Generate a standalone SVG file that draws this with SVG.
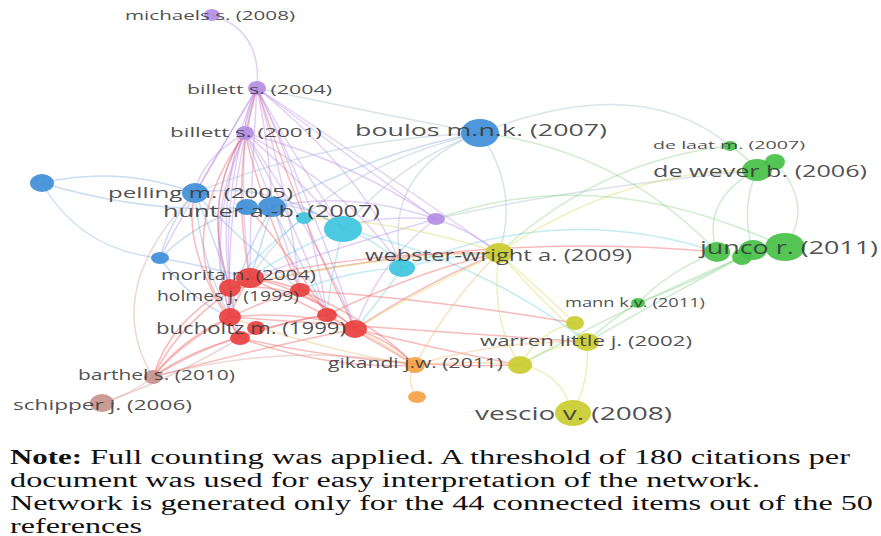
<svg xmlns="http://www.w3.org/2000/svg" width="881" height="536" viewBox="0 0 881 536">
<style>
.bg{fill:#ffffff}
.e{fill:none;stroke-width:1.5;stroke-opacity:0.42;stroke-linecap:round}
.pu{stroke:#b98ee6}
.bl{stroke:#7faee0}
.gy{stroke:#a9bccc}
.cy{stroke:#6fd0e4}
.re{stroke:#ee7070;stroke-opacity:0.48}
.br{stroke:#d4a09a}
.or{stroke:#f4b56e}
.ye{stroke:#d8da62}
.gr{stroke:#8fd48f}
.n{stroke:none;fill-opacity:0.92}
.npu{fill:#b48ee3}
.nbl{fill:#3f8ed8}
.ncy{fill:#3ec6de}
.nre{fill:#e8403f}
.nbr{fill:#c7928d}
.nor{fill:#f5a347}
.nye{fill:#c9cd2f}
.ngr{fill:#46c046}
.lb{font-family:"Open Sans","DejaVu Sans",sans-serif;fill:#3a3a3a;fill-opacity:0.9}
.note{font-family:"Liberation Serif","Times New Roman",serif;font-size:20px;fill:#111}
</style>
<rect class="bg" x="0" y="0" width="881" height="536"/>
<g id="connectors">
<!-- purple -->
<path class="e pu" d="M212,15 Q262,30 257,88"/>
<path class="e pu" d="M257,88 Q246,108 245,133"/>
<path class="e pu" d="M257,88 Q215,180 230,288"/>
<path class="e pu" d="M257,88 Q225,200 230,317"/>
<path class="e pu" d="M257,88 Q250,200 250,278"/>
<path class="e pu" d="M257,88 Q210,220 240,338"/>
<path class="e pu" d="M257,88 Q290,200 300,290"/>
<path class="e pu" d="M257,88 Q310,200 327,315"/>
<path class="e pu" d="M257,88 Q320,220 355,329"/>
<path class="e pu" d="M257,88 Q290,150 343,229"/>
<path class="e pu" d="M257,88 Q340,150 436,219"/>
<path class="e gy" d="M257,88 Q360,110 480,133"/>
<path class="e pu" d="M257,88 Q220,150 195,193"/>
<path class="e pu" d="M257,88 Q270,150 272,207"/>
<path class="e pu" d="M257,88 Q190,200 160,258"/>
<path class="e pu" d="M257,88 Q370,180 402,268"/>
<path class="e pu" d="M257,88 Q380,170 499,253"/>
<path class="e pu" d="M245,133 Q200,200 230,288"/>
<path class="e pu" d="M245,133 Q205,230 230,317"/>
<path class="e pu" d="M245,133 Q240,210 250,278"/>
<path class="e pu" d="M245,133 Q280,220 300,290"/>
<path class="e pu" d="M245,133 Q300,230 327,315"/>
<path class="e pu" d="M245,133 Q320,240 355,329"/>
<path class="e pu" d="M245,133 Q195,240 240,338"/>
<path class="e pu" d="M245,133 Q300,180 343,229"/>
<path class="e pu" d="M245,133 Q350,160 436,219"/>
<path class="e pu" d="M245,133 Q200,160 195,193"/>
<path class="e pu" d="M245,133 Q350,190 402,268"/>
<path class="e pu" d="M436,219 Q370,215 343,229"/>
<path class="e pu" d="M436,219 Q350,190 272,207"/>
<path class="e pu" d="M436,219 Q470,230 499,253"/>
<path class="e pu" d="M436,219 Q380,260 355,329"/>
<path class="e gy" d="M436,219 Q560,190 757,170"/>
<path class="e pu" d="M436,219 Q330,250 250,278"/>
<!-- blue -->
<path class="e bl" d="M42,183 Q120,165 195,193"/>
<path class="e bl" d="M42,183 Q150,215 247,207"/>
<path class="e bl" d="M42,183 Q80,250 160,258"/>
<path class="e br" d="M153,377 Q100,290 195,193"/>
<path class="e bl" d="M160,258 Q200,220 247,207"/>
<path class="e bl" d="M160,258 Q200,265 250,278"/>
<path class="e bl" d="M160,258 Q190,300 230,317"/>
<path class="e bl" d="M160,258 Q170,220 195,193"/>
<path class="e bl" d="M195,193 Q215,240 230,288"/>
<path class="e bl" d="M195,193 Q200,260 230,317"/>
<path class="e bl" d="M195,193 Q240,240 300,290"/>
<path class="e bl" d="M195,193 Q270,180 343,229"/>
<path class="e gy" d="M195,193 Q320,140 480,133"/>
<path class="e bl" d="M272,207 Q380,150 480,133"/>
<path class="e bl" d="M272,207 Q260,250 250,278"/>
<path class="e bl" d="M272,207 Q240,260 230,317"/>
<path class="e bl" d="M272,207 Q300,260 327,315"/>
<path class="e bl" d="M272,207 Q300,200 343,229"/>
<path class="e gy" d="M480,133 Q520,190 499,253"/>
<path class="e gy" d="M480,133 Q640,70 730,146"/>
<path class="e gy" d="M480,133 Q400,160 343,229"/>
<path class="e gy" d="M480,133 Q380,170 402,268"/>
<path class="e gy" d="M480,133 Q320,170 250,278"/>
<!-- cyan -->
<path class="e cy" d="M343,229 Q380,240 402,268"/>
<path class="e cy" d="M402,268 Q380,300 355,329"/>
<path class="e cy" d="M402,268 Q350,270 300,290"/>
<path class="e cy" d="M402,268 Q450,255 499,253"/>
<path class="e cy" d="M402,268 Q560,200 717,252"/>
<path class="e cy" d="M343,229 Q290,250 250,278"/>
<path class="e cy" d="M343,229 Q330,280 327,315"/>
<path class="e cy" d="M343,229 Q480,260 587,342"/>
<path class="e cy" d="M304,218 Q260,250 230,288"/>
<!-- red -->
<path class="e re" d="M250,278 Q235,300 230,317"/>
<path class="e re" d="M250,278 Q310,290 355,329"/>
<path class="e re" d="M230,288 Q225,320 240,338"/>
<path class="e re" d="M300,290 Q320,300 327,315"/>
<path class="e re" d="M230,317 Q300,310 355,329"/>
<path class="e re" d="M250,278 Q275,280 300,290"/>
<path class="e re" d="M250,278 Q340,320 415,365"/>
<path class="e re" d="M300,290 Q370,320 415,365"/>
<path class="e re" d="M355,329 Q390,340 415,365"/>
<path class="e re" d="M327,315 Q420,270 499,253"/>
<path class="e re" d="M355,329 Q430,280 499,253"/>
<path class="e re" d="M250,278 Q380,250 499,253"/>
<path class="e re" d="M230,317 Q420,330 587,342"/>
<path class="e re" d="M355,329 Q440,350 520,365"/>
<path class="e re" d="M240,338 Q380,370 520,365"/>
<path class="e re" d="M300,290 Q440,300 575,323"/>
<path class="e re" d="M230,288 Q480,230 717,252"/>
<path class="e re" d="M240,338 Q190,350 153,377"/>
<path class="e re" d="M230,317 Q180,340 153,377"/>
<path class="e re" d="M250,278 Q180,320 153,377"/>
<path class="e re" d="M300,290 Q200,320 153,377"/>
<path class="e re" d="M327,315 Q230,330 153,377"/>
<path class="e re" d="M355,329 Q250,350 153,377"/>
<path class="e re" d="M230,288 Q170,320 153,377"/>
<path class="e re" d="M240,338 Q330,370 415,365"/>
<path class="e re" d="M230,288 Q300,280 355,329"/>
<path class="e re" d="M240,338 Q290,320 327,315"/>
<path class="e re" d="M230,288 Q200,200 245,133"/>
<path class="e re" d="M250,278 Q230,180 257,88"/>
<path class="e re" d="M300,290 Q260,200 245,133"/>
<path class="e re" d="M355,329 Q300,220 257,88"/>
<path class="e re" d="M240,338 Q180,250 195,193"/>
<path class="e re" d="M327,315 Q280,240 247,207"/>
<path class="e re" d="M230,317 Q170,240 245,133"/>
<!-- brown -->
<path class="e br" d="M153,377 Q130,395 102,403"/>
<path class="e br" d="M153,377 Q290,340 415,365"/>
<path class="e br" d="M102,403 Q170,380 240,338"/>
<!-- orange -->
<path class="e or" d="M415,365 Q405,380 417,397"/>
<path class="e or" d="M415,365 Q470,360 520,365"/>
<path class="e or" d="M230,317 Q320,350 415,365"/>
<path class="e or" d="M327,315 Q380,340 415,365"/>
<path class="e or" d="M415,365 Q500,340 587,342"/>
<path class="e or" d="M415,365 Q450,300 499,253"/>
<!-- yellow -->
<path class="e ye" d="M499,253 Q540,300 587,342"/>
<path class="e ye" d="M499,253 Q540,290 575,323"/>
<path class="e ye" d="M499,253 Q490,320 520,365"/>
<path class="e ye" d="M520,365 Q550,345 587,342"/>
<path class="e ye" d="M520,365 Q560,370 573,413"/>
<path class="e ye" d="M587,342 Q590,380 573,413"/>
<path class="e ye" d="M575,323 Q540,330 520,365"/>
<path class="e ye" d="M499,253 Q620,170 757,170"/>
<path class="e ye" d="M499,253 Q370,255 230,288"/>
<path class="e ye" d="M499,253 Q400,220 304,218"/>
<path class="e ye" d="M499,253 Q420,290 355,329"/>
<!-- green -->
<path class="e gr" d="M730,146 Q745,155 757,170"/>
<path class="e gr" d="M757,170 Q740,210 753,250"/>
<path class="e gr" d="M775,162 Q815,205 785,247"/>
<path class="e gr" d="M757,170 Q700,200 717,252"/>
<path class="e gr" d="M717,252 Q670,270 638,303"/>
<path class="e gr" d="M742,257 Q640,300 520,365"/>
<path class="e gr" d="M587,342 Q660,300 742,257"/>
<path class="e gr" d="M587,342 Q610,320 638,303"/>
<path class="e gr" d="M638,303 Q700,280 753,250"/>
<path class="e gr" d="M785,247 Q600,160 436,219"/>
<path class="e gr" d="M717,252 Q620,150 480,133"/>
<path class="e gr" d="M730,146 Q600,160 499,253"/>
</g>
<g id="node-michaels"><ellipse class="n npu" cx="212" cy="15" rx="8" ry="6"/><text class="lb" x="125" y="20" font-size="12.5" textLength="170" lengthAdjust="spacingAndGlyphs">michaels s. (2008)</text></g>
<g id="node-billett2004"><ellipse class="n npu" cx="257" cy="88" rx="9" ry="7"/><text class="lb" x="187" y="94" font-size="13" textLength="145" lengthAdjust="spacingAndGlyphs">billett s. (2004)</text></g>
<g id="node-billett2001"><ellipse class="n npu" cx="245" cy="133" rx="9" ry="7"/><text class="lb" x="170" y="137" font-size="13" textLength="152" lengthAdjust="spacingAndGlyphs">billett s. (2001)</text></g>
<g id="node-purple-small"><ellipse class="n npu" cx="436" cy="219" rx="9" ry="6"/></g>
<g id="node-boulos"><ellipse class="n nbl" cx="480" cy="133" rx="19" ry="14" fill="#3b84cf"/><text class="lb" x="355" y="136" font-size="16.5" textLength="252" lengthAdjust="spacingAndGlyphs">boulos m.n.k. (2007)</text></g>
<g id="node-blue-left"><ellipse class="n nbl" cx="42" cy="183" rx="12" ry="9"/></g>
<g id="node-blue-small"><ellipse class="n nbl" cx="160" cy="258" rx="9" ry="6"/></g>
<g id="node-pelling"><ellipse class="n nbl" cx="195" cy="193" rx="13" ry="10"/><text class="lb" x="108" y="198" font-size="15" textLength="185" lengthAdjust="spacingAndGlyphs">pelling m. (2005)</text></g>
<g id="node-cyan-small"><ellipse class="n ncy" cx="304" cy="218" rx="8" ry="6"/></g>
<g id="node-cyan-big"><ellipse class="n ncy" cx="343" cy="229" rx="19" ry="13"/></g>
<g id="node-hunter"><ellipse class="n nbl" cx="247" cy="207" rx="11" ry="8"/><ellipse class="n nbl" cx="272" cy="207" rx="14" ry="10"/><text class="lb" x="163" y="217" font-size="17" textLength="217" lengthAdjust="spacingAndGlyphs">hunter a.-b. (2007)</text></g>
<g id="node-cyan-webster"><ellipse class="n ncy" cx="402" cy="268" rx="13" ry="9"/></g>
<g id="node-red-cluster"><ellipse class="n nre" cx="230" cy="288" rx="11" ry="9"/><ellipse class="n nre" cx="300" cy="290" rx="10" ry="7"/><ellipse class="n nre" cx="327" cy="315" rx="10" ry="7"/><ellipse class="n nre" cx="355" cy="329" rx="12" ry="9"/><ellipse class="n nre" cx="240" cy="338" rx="10" ry="7"/><ellipse class="n nre" cx="256" cy="328" rx="9" ry="7"/></g>
<g id="node-morita"><ellipse class="n nre" cx="250" cy="278" rx="14" ry="10"/><text class="lb" x="161" y="280" font-size="14" textLength="155" lengthAdjust="spacingAndGlyphs">morita n. (2004)</text></g>
<g id="node-holmes"><ellipse class="n nre" cx="230" cy="317" rx="11" ry="9"/><text class="lb" x="157" y="301" font-size="14" textLength="142" lengthAdjust="spacingAndGlyphs">holmes j. (1999)</text></g>
<g id="node-bucholtz"><text class="lb" x="156" y="334" font-size="16" textLength="190" lengthAdjust="spacingAndGlyphs">bucholtz m. (1999)</text></g>
<g id="node-barthel"><ellipse class="n nbr" cx="153" cy="377" rx="9" ry="7"/><text class="lb" x="78" y="380" font-size="14" textLength="157" lengthAdjust="spacingAndGlyphs">barthel s. (2010)</text></g>
<g id="node-schipper"><ellipse class="n nbr" cx="102" cy="403" rx="12" ry="9"/><text class="lb" x="13" y="410" font-size="15" textLength="179" lengthAdjust="spacingAndGlyphs">schipper j. (2006)</text></g>
<g id="node-gikandi"><ellipse class="n nor" cx="415" cy="365" rx="10" ry="8"/><text class="lb" x="328" y="368" font-size="14" textLength="175" lengthAdjust="spacingAndGlyphs">gikandi j.w. (2011)</text></g>
<g id="node-orange-small"><ellipse class="n nor" cx="417" cy="397" rx="9" ry="6"/></g>
<g id="node-webster-wright"><ellipse class="n nye" cx="499" cy="253" rx="14" ry="10"/><text class="lb" x="365" y="261" font-size="16" textLength="267" lengthAdjust="spacingAndGlyphs">webster-wright a. (2009)</text></g>
<g id="node-yellow-small"><ellipse class="n nye" cx="575" cy="323" rx="9" ry="7"/></g>
<g id="node-warren"><ellipse class="n nye" cx="587" cy="342" rx="12" ry="9"/><text class="lb" x="480" y="346" font-size="14" textLength="212" lengthAdjust="spacingAndGlyphs">warren little j. (2002)</text></g>
<g id="node-yellow-mid"><ellipse class="n nye" cx="520" cy="365" rx="12" ry="9"/></g>
<g id="node-vescio"><ellipse class="n nye" cx="573" cy="413" rx="18" ry="13"/><text class="lb" x="475" y="420" font-size="18" textLength="197" lengthAdjust="spacingAndGlyphs">vescio v. (2008)</text></g>
<g id="node-delaat"><ellipse class="n ngr" cx="730" cy="146" rx="7" ry="5"/><text class="lb" x="653" y="149" font-size="11.5" textLength="152" lengthAdjust="spacingAndGlyphs">de laat m. (2007)</text></g>
<g id="node-dewever"><ellipse class="n ngr" cx="775" cy="162" rx="10" ry="8"/><ellipse class="n ngr" cx="757" cy="170" rx="15" ry="11"/><text class="lb" x="653" y="177" font-size="17" textLength="214" lengthAdjust="spacingAndGlyphs">de wever b. (2006)</text></g>
<g id="node-junco"><ellipse class="n ngr" cx="717" cy="252" rx="13" ry="10"/><ellipse class="n ngr" cx="742" cy="257" rx="10" ry="8"/><ellipse class="n ngr" cx="753" cy="250" rx="14" ry="10"/><ellipse class="n ngr" cx="785" cy="247" rx="20" ry="14"/><text class="lb" x="700" y="254" font-size="18" textLength="178" lengthAdjust="spacingAndGlyphs">junco r. (2011)</text></g>
<g id="node-mann"><ellipse class="n ngr" cx="638" cy="303" rx="7" ry="5"/><text class="lb" x="565" y="307" font-size="12" textLength="140" lengthAdjust="spacingAndGlyphs">mann k.v. (2011)</text></g>
<g id="note">
<text class="note" x="10" y="464" font-weight="bold" textLength="72" lengthAdjust="spacingAndGlyphs">Note:</text>
<text class="note" x="90" y="464" textLength="760" lengthAdjust="spacingAndGlyphs">Full counting was applied. A threshold of 180 citations per</text>
<text class="note" x="10" y="487" textLength="750" lengthAdjust="spacingAndGlyphs">document was used for easy interpretation of the network.</text>
<text class="note" x="10" y="510" textLength="863" lengthAdjust="spacingAndGlyphs">Network is generated only for the 44 connected items out of the 50</text>
<text class="note" x="10" y="533" textLength="132" lengthAdjust="spacingAndGlyphs">references</text>
</g>
</svg>
